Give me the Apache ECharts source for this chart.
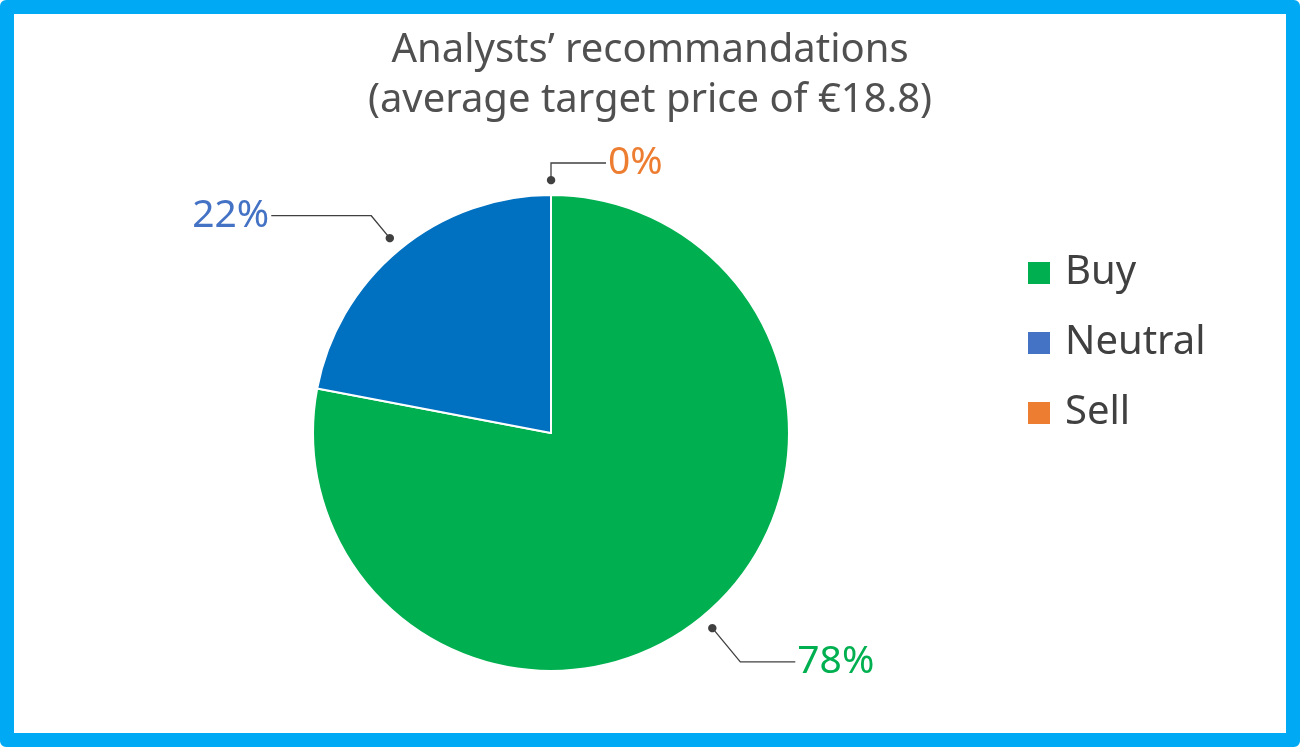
<!DOCTYPE html>
<html>
<head>
<meta charset="utf-8">
<script src="https://cdn.jsdelivr.net/npm/echarts@6/dist/echarts.min.js"></script>
<style>
  html, body { margin: 0; padding: 0; background: #fff; }
  #frame {
    position: absolute; left: 0; top: 0;
    width: 1300px; height: 747px;
    box-sizing: border-box;
    border: 14px solid #00a9f4;
    border-radius: 6px;
  }
  #main { position: absolute; left: 0; top: 0; width: 1300px; height: 747px; }
</style>
</head>
<body>
<div id="frame"></div>
<div id="main"></div>
<script>
// 数据
var categories = ['Buy', 'Neutral', 'Sell']
var shares = [78, 22, 0] // 百分比
var sliceColors = ['#00b050', '#0070c0', '#ed7d31']
var labelColors = ['#00b050', '#4472c4', '#ed7d31']
var titleText = 'Analysts\u2019 recommandations\n(average target price of \u20ac18.8)'

var FONT = '"Noto Sans", "Open Sans", sans-serif'
var center = [551, 433]

// 每个扇区标签线的长度不同
var lineLen = [47, 32, 20]
var lineLen2 = [55, 100, 55]

var myChart = echarts.init(document.getElementById('main'))

var pieData = categories.map(function (name, i) {
    return { name: name, value: shares[i], itemStyle: { color: sliceColors[i] } }
})
var labelData = categories.map(function (name, i) {
    return {
        name: name,
        value: shares[i],
        label: { color: labelColors[i] },
        labelLine: { length: lineLen[i], length2: lineLen2[i] }
    }
})
var dotData = categories.map(function (name, i) {
    return { name: name, value: shares[i] }
})

var option = {
    animation: false,
    title: {
        text: titleText,
        left: 'center',
        top: 21,
        textStyle: {
            fontFamily: FONT,
            fontSize: 40,
            fontWeight: 'normal',
            color: '#505050',
            lineHeight: 50
        }
    },
    legend: {
        orient: 'vertical',
        left: 1021,
        top: 248,
        itemWidth: 24,
        itemHeight: 24,
        itemGap: 30,
        icon: 'rect',
        selectedMode: false,
        textStyle: { fontFamily: FONT, fontSize: 40, color: '#404040', padding: [0, 0, 0, 9] },
        data: categories.map(function (name, i) {
            return { name: name, itemStyle: { color: labelColors[i] } }
        })
    },
    series: [
        {
            // 主饼图
            name: 'pie',
            type: 'pie',
            center: center,
            radius: 238,
            startAngle: 90,
            clockwise: true,
            label: { show: false },
            labelLine: { show: false },
            itemStyle: { borderColor: '#ffffff', borderWidth: 2 },
            emphasis: { disabled: true },
            data: pieData
        },
        {
            // 透明层，只画标签和标签线
            name: 'labels',
            type: 'pie',
            center: center,
            radius: 250,
            startAngle: 90,
            clockwise: true,
            silent: true,
            avoidLabelOverlap: false,
            itemStyle: { color: 'rgba(0,0,0,0)' },
            label: {
                show: true,
                position: 'outside',
                formatter: '{c}%',
                fontFamily: FONT,
                fontSize: 39,
                padding: [0, 0, 32, 0],
                distanceToLabelLine: 2
            },
            labelLine: {
                show: true,
                smooth: false,
                lineStyle: { color: '#404040', width: 1.3 }
            },
            emphasis: { disabled: true },
            data: labelData
        },
        {
            // 标签线起点的小圆点
            name: 'dots',
            type: 'pie',
            center: center,
            radius: [246, 254],
            startAngle: 90,
            clockwise: true,
            silent: true,
            avoidLabelOverlap: false,
            itemStyle: { color: 'rgba(0,0,0,0)' },
            label: {
                show: true,
                position: 'inside',
                formatter: '\u25cf',
                fontFamily: '"DejaVu Sans", sans-serif',
                fontSize: 11,
                color: '#404040'
            },
            labelLine: { show: false },
            emphasis: { disabled: true },
            data: dotData
        }
    ]
}

myChart.setOption(option)
window.addEventListener('resize', () => {
    myChart.resize()
})
</script>
</body>
</html>
